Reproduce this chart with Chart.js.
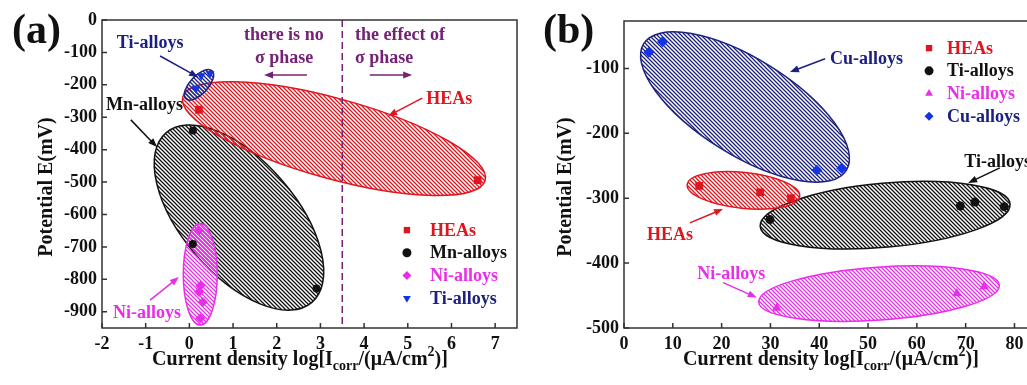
<!DOCTYPE html>
<html>
<head>
<meta charset="utf-8">
<script src="https://cdn.jsdelivr.net/npm/chart.js@4.4.1/dist/chart.umd.min.js"></script>
<style>
html, body { margin: 0; padding: 0; background: #fff; overflow: hidden; width: 1027px; height: 385px; }
#wa { position: absolute; left: 0; top: 0; }
#wb { position: absolute; left: 530px; top: 0; }
</style>
</head>
<body>
<div id="wa"><canvas id="chartA" width="530" height="385"></canvas></div>
<div id="wb"><canvas id="chartB" width="520" height="385"></canvas></div>
<script>
// ---- panel (a) data: [log icorr, E (mV)]
const aHEAs = [[0.22, -277], [6.6, -494]];
const aMn = [[0.08, -341], [0.08, -691], [2.91, -828]];
const aNi = [[0.22, -649], [0.25, -820], [0.22, -839], [0.31, -870], [0.25, -920]];
const aTi = [[0.27, -172], [0.47, -165], [0.15, -212]];
const aXTicks = [-2, -1, 0, 1, 2, 3, 4, 5, 6, 7];
const aYTicks = [0, -100, -200, -300, -400, -500, -600, -700, -800, -900];
// major axis ends of the shaded regions
const aRegHEAs = [-0.15, -237, 6.77, -495];
const aRegMn = [-0.535, -348, 2.805, -871];
const aRegNi = [0.25, -628, 0.25, -941];
const aRegTi = [-0.08, -243, 0.52, -157];
const aSigma = 3.5;

// ---- panel (b) data
const bHEAs = [[15.4, -281], [27.9, -291], [34.2, -300]];
const bTi = [[29.9, -333], [68.9, -312], [71.9, -306], [77.9, -313]];
const bNi = [[31.3, -469], [68.2, -447], [73.8, -436]];
const bCu = [[5.1, -75], [7.9, -59], [39.5, -257], [44.6, -254]];
const bXTicks = [0, 10, 20, 30, 40, 50, 60, 70, 80];
const bYTicks = [-100, -200, -300, -400, -500];
const bRegCu = [4.04, -62, 45.55, -257];
const bRegHEAs = [12.95, -279, 36.0, -297];
const bRegTi = [27.9, -343.5, 79.1, -309];
const bRegNi = [27.6, -460, 76.9, -434];

const FONT = '"Liberation Serif", "Times New Roman", serif';
const RED = '#e0161e', BLACK = '#111111', MAG = '#e82ee8', NAVY = '#1c2180', BLUE = '#1234e6', PURP = '#742274';
const AXIS = '#333333';

const toXY = arr => arr.map(p => ({ x: p[0], y: p[1] }));

function hatch(ctx, color) {
    const c = document.createElement('canvas');
    c.width = 4; c.height = 4;
    const g = c.getContext('2d');
    g.strokeStyle = color;
    g.lineWidth = 1.3;
    g.beginPath();
    g.moveTo(-1, -1); g.lineTo(5, 5);
    g.moveTo(-1, 3); g.lineTo(1, 5);
    g.moveTo(3, -1); g.lineTo(5, 1);
    g.stroke();
    return ctx.createPattern(c, 'repeat');
}

function arrow(ctx, x1, y1, x2, y2, color) {
    const ang = Math.atan2(y2 - y1, x2 - x1);
    const hl = 9, hw = 3.5;
    ctx.save();
    ctx.strokeStyle = color; ctx.fillStyle = color; ctx.lineWidth = 1.5;
    ctx.beginPath();
    ctx.moveTo(x1, y1);
    ctx.lineTo(x2 - Math.cos(ang) * hl * 0.8, y2 - Math.sin(ang) * hl * 0.8);
    ctx.stroke();
    ctx.beginPath();
    ctx.moveTo(x2, y2);
    ctx.lineTo(x2 - Math.cos(ang) * hl - Math.sin(ang) * hw, y2 - Math.sin(ang) * hl + Math.cos(ang) * hw);
    ctx.lineTo(x2 - Math.cos(ang) * hl + Math.sin(ang) * hw, y2 - Math.sin(ang) * hl - Math.cos(ang) * hw);
    ctx.closePath();
    ctx.fill();
    ctx.restore();
}

function xTitle(ctx, cx, base) {
    const parts = [['Current density log[I', 20, 0], ['corr', 14, 5], ['/(\u03bcA/cm', 20, 0], ['2', 14, -9], [')]', 20, 0]];
    let w = 0;
    parts.forEach(p => { ctx.font = 'bold ' + p[1] + 'px ' + FONT; w += ctx.measureText(p[0]).width; });
    let x = cx - w / 2;
    ctx.fillStyle = BLACK;
    ctx.textAlign = 'left';
    ctx.textBaseline = 'alphabetic';
    parts.forEach(p => {
        ctx.font = 'bold ' + p[1] + 'px ' + FONT;
        ctx.fillText(p[0], x, base + p[2]);
        x += ctx.measureText(p[0]).width;
    });
}

function decoPlugin(deco) {
    return {
        id: 'deco',
        beforeDatasetsDraw(chart) {
            const { ctx, chartArea: ca } = chart;
            const xs = chart.scales.x, ys = chart.scales.y;
            ctx.save();
            ctx.beginPath();
            ctx.rect(ca.left, ca.top, ca.right - ca.left, ca.bottom - ca.top);
            ctx.clip();
            deco.regions.forEach(r => {
                const x1 = xs.getPixelForValue(r.ends[0]), y1 = ys.getPixelForValue(r.ends[1]);
                const x2 = xs.getPixelForValue(r.ends[2]), y2 = ys.getPixelForValue(r.ends[3]);
                const a = Math.hypot(x2 - x1, y2 - y1) / 2;
                ctx.beginPath();
                ctx.ellipse((x1 + x2) / 2, (y1 + y2) / 2, a, r.half, Math.atan2(y2 - y1, x2 - x1), 0, Math.PI * 2);
                ctx.fillStyle = hatch(ctx, r.color);
                ctx.fill();
                ctx.strokeStyle = r.color;
                ctx.lineWidth = 1.5;
                ctx.stroke();
            });
            if (deco.vline !== undefined) {
                const px = xs.getPixelForValue(deco.vline);
                ctx.strokeStyle = PURP;
                ctx.lineWidth = 1.5;
                ctx.setLineDash([7, 4]);
                ctx.beginPath();
                ctx.moveTo(px, ca.top); ctx.lineTo(px, ca.bottom);
                ctx.stroke();
            }
            ctx.restore();
        },
        afterDraw(chart) {
            const { ctx, chartArea: ca } = chart;
            const xs = chart.scales.x, ys = chart.scales.y;
            ctx.save();
            // frame and inward ticks
            ctx.strokeStyle = AXIS;
            ctx.lineWidth = 1.5;
            ctx.strokeRect(ca.left, ca.top, ca.right - ca.left, ca.bottom - ca.top);
            ctx.beginPath();
            xs.ticks.forEach(t => {
                const px = xs.getPixelForValue(t.value);
                ctx.moveTo(px, ca.bottom); ctx.lineTo(px, ca.bottom - 5);
            });
            ys.ticks.forEach(t => {
                const py = ys.getPixelForValue(t.value);
                ctx.moveTo(ca.left, py); ctx.lineTo(ca.left + 5, py);
            });
            ctx.stroke();

            // annotations
            ctx.font = 'bold 18px ' + FONT;
            ctx.textAlign = 'left';
            ctx.textBaseline = 'alphabetic';
            deco.labels.forEach(l => {
                ctx.fillStyle = l.c;
                ctx.fillText(l.t, xs.getPixelForValue(l.x), ys.getPixelForValue(l.y));
            });
            deco.arrows.forEach(a => {
                arrow(ctx, xs.getPixelForValue(a.from[0]), ys.getPixelForValue(a.from[1]),
                    xs.getPixelForValue(a.to[0]), ys.getPixelForValue(a.to[1]), a.c);
            });

            // legend
            const lg = deco.legend;
            const mx = xs.getPixelForValue(lg.markX), tx = xs.getPixelForValue(lg.textX);
            let ly = ys.getPixelForValue(lg.topY);
            chart.data.datasets.forEach(ds => {
                ctx.fillStyle = ds.backgroundColor;
                ctx.strokeStyle = ds.backgroundColor;
                Chart.helpers.drawPoint(ctx, { pointStyle: ds.pointStyle, rotation: ds.rotation || 0, radius: 4.5, borderWidth: 0 }, mx, ly);
                ctx.fillStyle = ds.textColor;
                ctx.textBaseline = 'middle';
                ctx.font = 'bold 18px ' + FONT;
                ctx.fillText(ds.label, tx, ly + 1);
                ly += lg.step;
            });

            // panel label and axis titles
            ctx.fillStyle = BLACK;
            ctx.textBaseline = 'alphabetic';
            ctx.font = 'bold 42px ' + FONT;
            ctx.fillText(deco.panel, deco.panelX, 43);
            xTitle(ctx, deco.xTitleX, 365);
            ctx.translate(deco.yTitleX, 187);
            ctx.rotate(-Math.PI / 2);
            ctx.textAlign = 'center';
            ctx.textBaseline = 'middle';
            ctx.font = 'bold 20px ' + FONT;
            ctx.fillText('Potential E(mV)', 0, 0);
            ctx.restore();
        }
    };
}

function makeChart(id, datasets, xr, yr, xt, yt, yWidth, pad, deco) {
    const tickFont = { family: FONT, weight: 'bold', size: 18 };
    return new Chart(document.getElementById(id), {
        type: 'scatter',
        data: { datasets: datasets },
        options: {
            responsive: false,
            animation: false,
            devicePixelRatio: 1,
            layout: { padding: pad },
            plugins: { legend: { display: false }, tooltip: { enabled: false } },
            scales: {
                x: {
                    type: 'linear', min: xr[0], max: xr[1],
                    afterBuildTicks: s => { s.ticks = xt.map(v => ({ value: v })); },
                    afterFit: s => { s.height = 57; },
                    grid: { display: false, drawTicks: false },
                    border: { display: false },
                    ticks: { padding: 6, font: tickFont, color: BLACK, maxRotation: 0, autoSkip: false }
                },
                y: {
                    type: 'linear', min: yr[0], max: yr[1],
                    afterBuildTicks: s => { s.ticks = yt.map(v => ({ value: v })); },
                    afterFit: s => { s.width = yWidth; },
                    grid: { display: false, drawTicks: false },
                    border: { display: false },
                    ticks: { padding: 5, font: tickFont, color: BLACK, autoSkip: false }
                }
            }
        },
        plugins: [decoPlugin(deco)]
    });
}

makeChart('chartA', [
    { label: 'HEAs', data: toXY(aHEAs), pointStyle: 'rect', pointRadius: 5.5, backgroundColor: RED, borderColor: RED, borderWidth: 0, textColor: RED },
    { label: 'Mn-alloys', data: toXY(aMn), pointStyle: 'circle', pointRadius: 4, backgroundColor: BLACK, borderColor: BLACK, borderWidth: 0, textColor: BLACK },
    { label: 'Ni-alloys', data: toXY(aNi), pointStyle: 'rectRot', pointRadius: 5, backgroundColor: MAG, borderColor: MAG, borderWidth: 0, textColor: MAG },
    { label: 'Ti-alloys', data: toXY(aTi), pointStyle: 'triangle', rotation: 180, pointRotation: 180, pointRadius: 5, backgroundColor: BLUE, borderColor: BLUE, borderWidth: 0, textColor: NAVY }
], [-2, 7.5], [-950, 0], aXTicks, aYTicks, 102, { top: 20, right: 13, left: 0, bottom: 0 }, {
    regions: [
        { ends: aRegMn, half: 57, color: BLACK },
        { ends: aRegHEAs, half: 40, color: RED },
        { ends: aRegNi, half: 17, color: MAG },
        { ends: aRegTi, half: 9, color: NAVY }
    ],
    vline: aSigma,
    labels: [
        { t: 'Ti-alloys', x: -1.66, y: -86, c: NAVY },
        { t: 'Mn-alloys', x: -1.91, y: -278, c: BLACK },
        { t: 'HEAs', x: 5.42, y: -259, c: RED },
        { t: 'there is no', x: 1.25, y: -62, c: PURP },
        { t: '\u03c3 phase', x: 1.5, y: -133, c: PURP },
        { t: 'the effect of', x: 3.79, y: -62, c: PURP },
        { t: '\u03c3 phase', x: 3.79, y: -133, c: PURP },
        { t: 'Ni-alloys', x: -1.75, y: -919, c: MAG }
    ],
    arrows: [
        { from: [-0.67, -111], to: [0.2, -176], c: NAVY },
        { from: [-1.34, -308], to: [-0.74, -392], c: BLACK },
        { from: [5.33, -241], to: [4.55, -296], c: RED },
        { from: [2.69, -170], to: [1.71, -170], c: PURP },
        { from: [4.13, -170], to: [5.1, -170], c: PURP },
        { from: [-0.9, -864], to: [-0.24, -793], c: MAG }
    ],
    legend: { markX: 4.98, textX: 5.51, topY: -648, step: 22.7 },
    panel: '(a)', panelX: 12, xTitleX: 300, yTitleX: 47
});

makeChart('chartB', [
    { label: 'HEAs', data: toXY(bHEAs), pointStyle: 'rect', pointRadius: 5.5, backgroundColor: RED, borderColor: RED, borderWidth: 0, textColor: RED },
    { label: 'Ti-alloys', data: toXY(bTi), pointStyle: 'circle', pointRadius: 4.5, backgroundColor: BLACK, borderColor: BLACK, borderWidth: 0, textColor: BLACK },
    { label: 'Ni-alloys', data: toXY(bNi), pointStyle: 'triangle', pointRadius: 5.5, backgroundColor: MAG, borderColor: MAG, borderWidth: 0, textColor: MAG },
    { label: 'Cu-alloys', data: toXY(bCu), pointStyle: 'rectRot', pointRadius: 5.5, backgroundColor: BLUE, borderColor: BLUE, borderWidth: 0, textColor: NAVY }
], [0, 84], [-500, -27], bXTicks, bYTicks, 94, { top: 21, right: 16, left: 0, bottom: 0 }, {
    regions: [
        { ends: bRegCu, half: 48, color: NAVY },
        { ends: bRegTi, half: 32, color: BLACK },
        { ends: bRegHEAs, half: 18, color: RED },
        { ends: bRegNi, half: 26.5, color: MAG }
    ],
    labels: [
        { t: 'Cu-alloys', x: 42.2, y: -93.4, c: NAVY },
        { t: 'Ti-alloys', x: 69.7, y: -251.8, c: BLACK },
        { t: 'HEAs', x: 4.7, y: -364, c: RED },
        { t: 'Ni-alloys', x: 15.0, y: -424, c: MAG }
    ],
    arrows: [
        { from: [41.2, -85.1], to: [34.0, -105.7], c: NAVY },
        { from: [77.0, -253.4], to: [70.5, -276.5], c: BLACK },
        { from: [13.5, -338], to: [20.3, -316.5], c: RED },
        { from: [20.3, -430], to: [27.2, -453], c: MAG }
    ],
    legend: { markX: 62.5, textX: 66.2, topY: -68.8, step: 22.7 },
    panel: '(b)', panelX: 13, xTitleX: 301, yTitleX: 36
});
</script>
</body>
</html>
